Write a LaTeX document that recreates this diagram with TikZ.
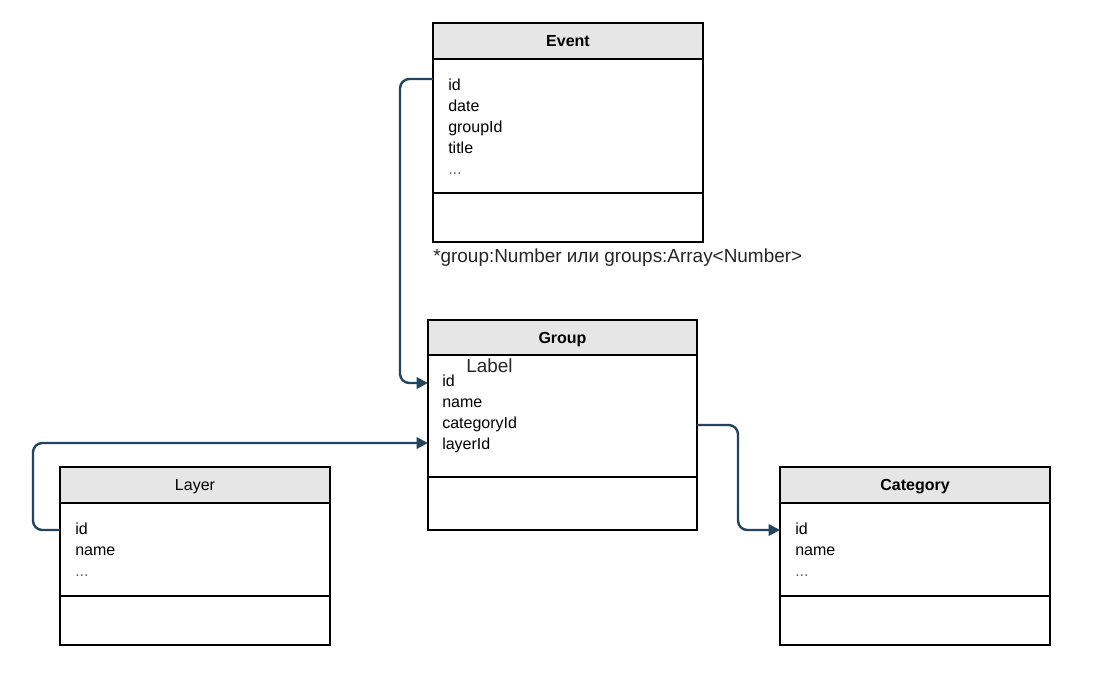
\documentclass[tikz,border=0pt]{standalone}
\usepackage{fontspec}
\setmainfont{Liberation Sans}
\usetikzlibrary{arrows.meta,calc}
\definecolor{hdrfill}{HTML}{E6E6E6}
\definecolor{conncol}{HTML}{23445D}
\begin{document}
\begin{tikzpicture}[x=0.75pt,y=-0.75pt,
  tbox/.style={draw=black,line width=1.1pt,anchor=north west,inner sep=0pt,outer sep=0pt,font=\fontsize{12}{14}\selectfont},
  hdr/.style={tbox,fill=hdrfill,text depth=0pt},
  fld/.style={anchor=base west,inner sep=0pt,font=\fontsize{12}{14}\selectfont},
  big/.style={anchor=base west,inner sep=0pt,font=\fontsize{14.2}{16}\selectfont,text=black!85},
  conn/.style={draw=conncol,line width=1.8pt,rounded corners=7pt,-{Triangle[length=8.5pt,width=8.5pt]}}]
\fill[white] (0,0) rectangle (1116,678);
\useasboundingbox (0,0) rectangle (1116,678);
% Event
\node[hdr,minimum width=202.5pt,minimum height=27pt] (eh) at (433,23) {\bfseries Event};
\node[tbox,minimum width=202.5pt,minimum height=100.5pt] (eb) at (433,59) {};
\node[tbox,minimum width=202.5pt,minimum height=36.75pt] (ef) at (433,193) {};
\node[fld] (e1) at (448,90) {id};
\node[fld] (e2) at (448,111) {date};
\node[fld] (e3) at (448,132) {groupId};
\node[fld] (e4) at (448,153) {title};
\node[fld,text=black!60] (e5) at (448,174) {...};
\node[big] (cap) at (433,262) {*group:Number или groups:Array<Number>};
% Group
\node[hdr,minimum width=201.75pt,minimum height=26.25pt] (gh) at (428,320) {\bfseries Group};
\node[tbox,minimum width=201.75pt,minimum height=91.5pt] (gb) at (428,355) {};
\node[tbox,minimum width=201.75pt,minimum height=39.75pt] (gf) at (428,477) {};
\node[big] (lbl) at (466,372) {Label};
\node[fld] (g1) at (442,386) {id};
\node[fld] (g2) at (442,407) {name};
\node[fld] (g3) at (442,428) {categoryId};
\node[fld] (g4) at (442,449) {layerId};
% Layer
\node[hdr,minimum width=202.5pt,minimum height=27pt] (lh) at (60,467) {Layer};
\node[tbox,minimum width=202.5pt,minimum height=69.75pt] (lb) at (60,503) {};
\node[tbox,minimum width=202.5pt,minimum height=36.75pt] (lf) at (60,596) {};
\node[fld] (l1) at (75,534) {id};
\node[fld] (l2) at (75,555) {name};
\node[fld,text=black!60] (l3) at (75,576) {...};
% Category
\node[hdr,minimum width=202.5pt,minimum height=27pt] (ch) at (780,467) {\bfseries Category};
\node[tbox,minimum width=202.5pt,minimum height=69.75pt] (cb) at (780,503) {};
\node[tbox,minimum width=202.5pt,minimum height=36.75pt] (cf) at (780,596) {};
\node[fld] (c1) at (795,534) {id};
\node[fld] (c2) at (795,555) {name};
\node[fld,text=black!60] (c3) at (795,576) {...};
% connectors
\draw[conn] ([yshift=-15pt]eb.north west) -- ++(-33,0) |- ([yshift=-21pt]gb.north west);
\draw[conn] ([yshift=-20.25pt]lb.north west) -- ++(-27,0) |- ([yshift=-66pt]gb.north west);
\draw[conn] ([yshift=-52.5pt]gb.north east) -- ++(41,0) |- ([yshift=-20.25pt]cb.north west);
\end{tikzpicture}
\end{document}
